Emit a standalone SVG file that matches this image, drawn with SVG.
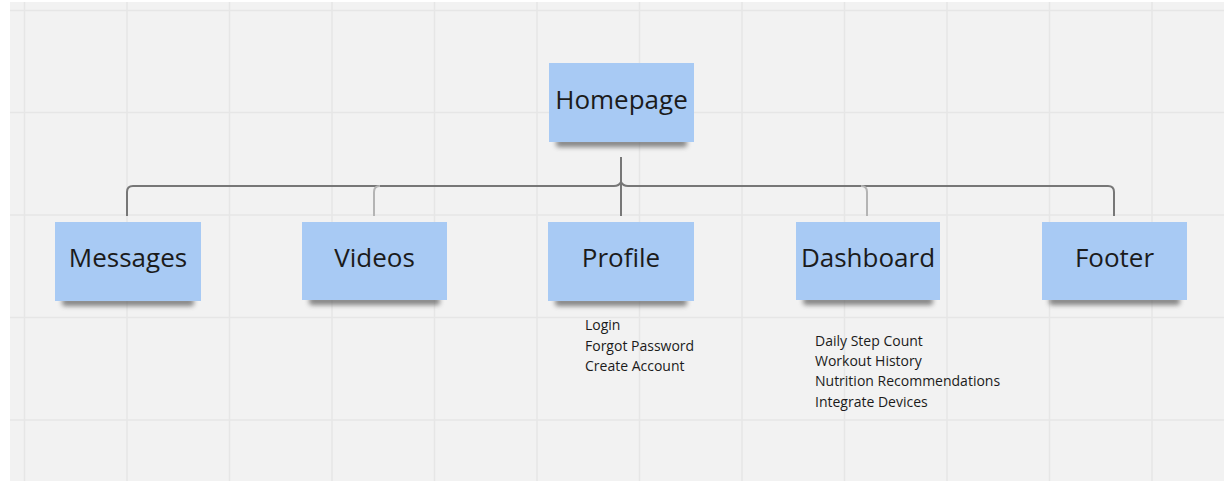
<svg xmlns="http://www.w3.org/2000/svg" width="1224" height="481" viewBox="0 0 1224 481">
<defs>
<style>
.grid{stroke:#e6e6e6;stroke-width:1.5;fill:none}
.note{fill:#a8caf4}
.lbl{font-family:"Open Sans","Noto Sans",sans-serif;font-size:26px;fill:#1b1b1b;text-anchor:middle}
.sub{font-family:"Open Sans","Noto Sans",sans-serif;font-size:14px;fill:#1b1b1b}
.c{fill:none;stroke:#777;stroke-width:2}
.cl{fill:none;stroke:#b4b4b4;stroke-width:2}
</style>
<filter id="sh" x="-20%" y="-100%" width="140%" height="300%"><feGaussianBlur stdDeviation="2.5"/></filter>
<linearGradient id="ng" x1="0" y1="0" x2="1" y2="1"><stop offset="0" stop-color="#a4c7f3"/><stop offset="1" stop-color="#acccf5"/></linearGradient>
</defs>
<rect width="1224" height="481" fill="#ffffff"/>
<rect x="10" y="2" width="1214" height="479" fill="#f2f2f2"/>
<g class="grid">
<path d="M24.5 2V481M127 2V481M229.5 2V481M332 2V481M434.5 2V481M537 2V481M639.5 2V481M742 2V481M844.5 2V481M947 2V481M1049.5 2V481M1152 2V481"/>
<path d="M10 10.5H1224M10 112.5H1224M10 215H1224M10 317.5H1224M10 420H1224"/>
</g>
<g id="connectors">
<path class="c" d="M621 157V216"/>
<path class="c" d="M621 182Q619 186 614 186H133Q127 186 127 192V216"/>
<path class="c" d="M621 182Q623 186 628 186H1108Q1114 186 1114 192V216"/>
<path class="cl" d="M374 216V192Q374 186 380 186"/>
<path class="cl" d="M867 216V192Q867 186 861 186"/>
</g>
<g id="homepage">
<rect x="556" y="139" width="131" height="8" rx="3" fill="#555" opacity="0.7" filter="url(#sh)"/>
<rect class="note" x="549" y="63" width="145" height="79" fill="url(#ng)"/>
<text class="lbl" x="621.5" y="109">Homepage</text>
</g>
<g id="messages">
<rect x="62" y="298" width="132" height="8" rx="3" fill="#555" opacity="0.7" filter="url(#sh)"/>
<rect class="note" x="55" y="222" width="146" height="79" fill="url(#ng)"/>
<text class="lbl" x="128" y="267">Messages</text>
</g>
<g id="videos">
<rect x="309" y="297" width="131" height="8" rx="3" fill="#555" opacity="0.7" filter="url(#sh)"/>
<rect class="note" x="302" y="222" width="145" height="78" fill="url(#ng)"/>
<text class="lbl" x="374.5" y="267">Videos</text>
</g>
<g id="profile">
<rect x="555" y="298" width="132" height="8" rx="3" fill="#555" opacity="0.7" filter="url(#sh)"/>
<rect class="note" x="548" y="222" width="146" height="79" fill="url(#ng)"/>
<text class="lbl" x="621" y="267">Profile</text>
<text class="sub" x="585" y="330">Login</text>
<text class="sub" x="585" y="351">Forgot Password</text>
<text class="sub" x="585" y="371">Create Account</text>
</g>
<g id="dashboard">
<rect x="803" y="297" width="130" height="8" rx="3" fill="#555" opacity="0.7" filter="url(#sh)"/>
<rect class="note" x="796" y="222" width="144" height="78" fill="url(#ng)"/>
<text class="lbl" x="868" y="267">Dashboard</text>
<text class="sub" x="815" y="346">Daily Step Count</text>
<text class="sub" x="815" y="366">Workout History</text>
<text class="sub" x="815" y="386">Nutrition Recommendations</text>
<text class="sub" x="815" y="407">Integrate Devices</text>
</g>
<g id="footer">
<rect x="1049" y="297" width="131" height="8" rx="3" fill="#555" opacity="0.7" filter="url(#sh)"/>
<rect class="note" x="1042" y="222" width="145" height="78" fill="url(#ng)"/>
<text class="lbl" x="1114.5" y="267">Footer</text>
</g>
</svg>
